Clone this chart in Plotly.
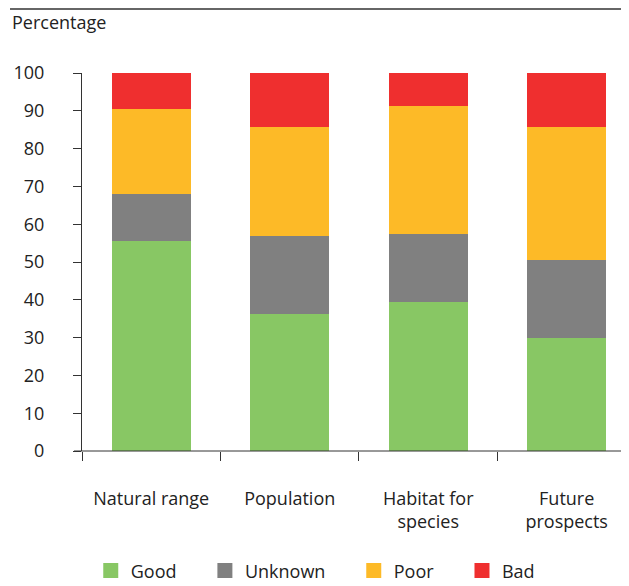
import plotly.graph_objects as go

categories = ["Natural range", "Population", "Habitat for<br>species", "Future<br>prospects"]
good = [55.6, 36.2, 39.3, 30.0]
unknown = [12.3, 20.7, 18.1, 20.5]
poor = [22.6, 28.8, 34.0, 35.2]
bad = [9.5, 14.3, 8.6, 14.3]

series = [
    ("Good", good, "#88c764"),
    ("Unknown", unknown, "#808080"),
    ("Poor", poor, "#fdba27"),
    ("Bad", bad, "#ef2f2f"),
]

pad = "\u00a0" * 5  # widen the gaps between legend entries

fig = go.Figure()
for name, vals, color in series:
    fig.add_trace(go.Bar(x=categories, y=vals, name=name, showlegend=False,
                         marker=dict(color=color, line=dict(width=0))))
# legend entries with bigger square swatches
for name, vals, color in series:
    fig.add_trace(go.Scatter(x=[None], y=[None], mode="markers", name=name + pad,
                             marker=dict(symbol="square", size=15, color=color)))

font = dict(family="Open Sans", size=18, color="#222222")

# page body adds 8px, so the figure is drawn 8px smaller
fig.update_layout(
    barmode="stack",
    bargap=0.43,
    width=621, height=578,
    margin=dict(l=74, r=0, t=65, b=135, autoexpand=False),
    paper_bgcolor="white", plot_bgcolor="white",
    font=font,
    showlegend=True,
    legend=dict(orientation="h", x=0.016, xanchor="left",
                y=-0.268, yanchor="top", font=font, traceorder="normal",
                itemclick=False),
)

fig.update_xaxes(
    range=[-0.5, 3.45], tickson="boundaries", ticks="outside", ticklen=9,
    tickcolor="#333333", showline=False, showgrid=False, tickangle=0,
    ticklabelstandoff=35, tickfont=font,
)
fig.update_yaxes(
    range=[0, 100], dtick=10, ticks="outside", ticklen=8, tickcolor="#333333",
    showline=True, linecolor="#333333", linewidth=1, showgrid=False,
    zeroline=False, ticklabelstandoff=25, tickfont=font,
)

# x axis line extending slightly left of the y axis
fig.add_shape(type="line", xref="paper", yref="paper", x0=-0.0146, x1=1,
              y0=0, y1=0, line=dict(color="#333333", width=1))
# top rule
fig.add_shape(type="line", xref="paper", yref="paper", x0=-0.1316, x1=1,
              y0=1.169, y1=1.169, line=dict(color="#666666", width=2))

fig.add_annotation(text="Percentage", xref="paper", yref="paper",
                   x=-0.1316, y=1.135, xanchor="left", yanchor="middle",
                   showarrow=False, font=font)

fig.write_html("out.html")
